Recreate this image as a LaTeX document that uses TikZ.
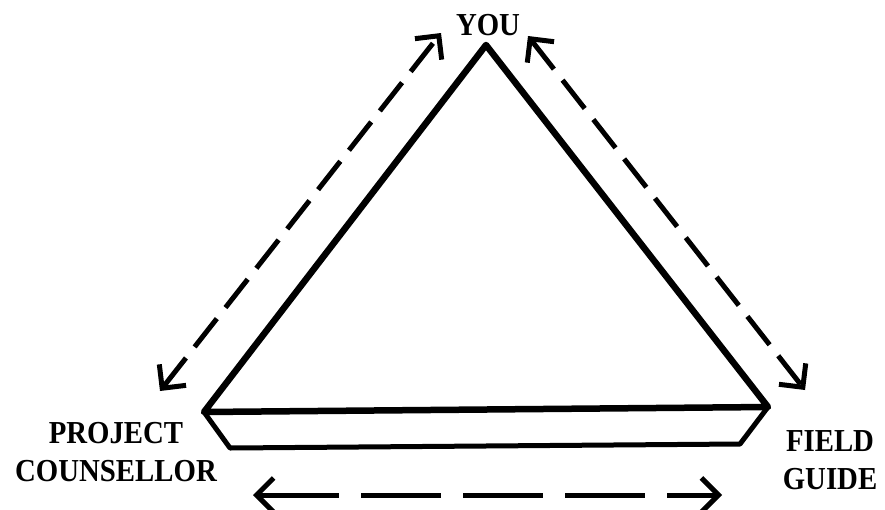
\documentclass[tikz,border=0pt]{standalone}
\usepackage{fontspec}
\setmainfont{Liberation Serif}[FakeStretch=0.9]
\usepackage{tikz}
\usetikzlibrary{arrows.meta,positioning}
\tikzset{
  borde/.style={line width=6.5pt,line join=round,line cap=round},
  tira/.style={line width=5pt,line join=round,line cap=round},
  flecha/.style={{Straight Barb[length=17pt,width=34pt]}-{Straight Barb[length=17pt,width=34pt]},line width=5pt,dash pattern=on 36pt off 14pt},
  rotulo/.style={font=\bfseries\fontsize{32}{38}\selectfont,align=center,inner sep=0pt}
}

\begin{document}
\begin{tikzpicture}[x=1pt,y=-1pt]
\useasboundingbox (0,0) rectangle (885,509);
% vertices
\coordinate (cima) at (486,45);
\coordinate (izq) at (204,412);
\coordinate (der) at (768,407);
\coordinate (izqb) at (230,448);
\coordinate (derb) at (740,444);
% rotulos
\node[rotulo,anchor=base] (you) at (488,35) {YOU};
\node[rotulo,anchor=north] (counsellor) at (116,422) {PROJECT\\COUNSELLOR};
\node[rotulo,anchor=north] (guide) at (830,430) {FIELD\\GUIDE};
% triangulo y base
\draw[borde] (izq)--(cima)--(der)--cycle;
\draw[tira] (izq)--(izqb)--(derb)--(der);
% flechas
\coordinate (f1) at (441,33);
\coordinate (f2) at (160,391);
\coordinate (f3) at (528,36);
\coordinate (f4) at (805,390);
\coordinate (f5) at (253,495);
\coordinate (f6) at (722,495);
\draw[flecha] (f2)--(f1);
\draw[flecha] (f3)--(f4);
\draw[flecha,dash pattern=on 80pt off 22pt] (f5)--(f6);
\end{tikzpicture}
\end{document}
